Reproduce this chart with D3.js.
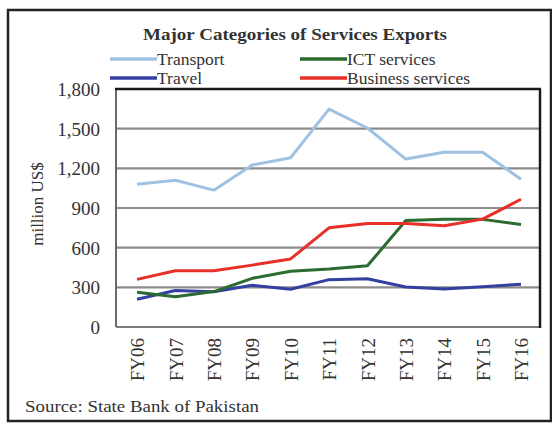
<!DOCTYPE html>
<html>
<head>
<meta charset="utf-8">
<script src="https://cdn.jsdelivr.net/npm/d3@7"></script>
<style>
  html, body { margin: 0; padding: 0; background: #fff; }
  svg { display: block; }
  text { font-family: "Liberation Serif", "Times New Roman", serif; fill: #333; }
</style>
</head>
<body>
<svg id="chart" width="552" height="424"></svg>
<script>
// Fiscal years on the x axis
const years = ["FY06", "FY07", "FY08", "FY09", "FY10", "FY11", "FY12", "FY13", "FY14", "FY15", "FY16"];

// Exports by category, million US$
const transport = [1080, 1110, 1035, 1225, 1280, 1648, 1505, 1270, 1322, 1322, 1118];
const ict       = [262, 228, 268, 368, 422, 438, 463, 805, 814, 814, 775];
const travel    = [210, 276, 267, 315, 286, 358, 365, 302, 288, 304, 324];
const business  = [360, 425, 425, 468, 515, 750, 782, 782, 765, 816, 966];

// Value axis ticks
const yTicks = [0, 300, 600, 900, 1200, 1500, 1800];

const seriesNames  = ["Transport", "ICT services", "Travel", "Business services"];
const seriesColors = ["#9fc2e3", "#2b6a30", "#3440a0", "#e8302a"];
const seriesValues = [transport, ict, travel, business];

const svg = d3.select("#chart");

// Outer frame
svg.append("rect")
  .attr("x", 8).attr("y", 10).attr("width", 543).attr("height", 411)
  .attr("fill", "#fff").attr("stroke", "#222").attr("stroke-width", 2.5);

const plot = { left: 116, top: 89, right: 540, bottom: 327 };

const x = d3.scalePoint().domain(years).range([plot.left + 21, plot.right - 19]);
const y = d3.scaleLinear().domain([0, 1800]).range([plot.bottom, plot.top]);

// Horizontal grid lines
svg.append("g")
  .selectAll("line")
  .data(yTicks.filter(d => d > 0 && d < 1800))
  .join("line")
  .attr("x1", plot.left).attr("x2", plot.right)
  .attr("y1", d => y(d)).attr("y2", d => y(d))
  .attr("stroke", "#8c8c8c").attr("stroke-width", 2.2);

// Plot area border: darker top/right, grey left/bottom
svg.append("line").attr("x1", plot.left).attr("x2", plot.left)
  .attr("y1", plot.top).attr("y2", plot.bottom)
  .attr("stroke", "#6a6a6a").attr("stroke-width", 2);
svg.append("line").attr("x1", plot.left).attr("x2", plot.right)
  .attr("y1", plot.bottom).attr("y2", plot.bottom)
  .attr("stroke", "#7a7a7a").attr("stroke-width", 2);
svg.append("line").attr("x1", plot.left - 1).attr("x2", plot.right + 1)
  .attr("y1", plot.top).attr("y2", plot.top)
  .attr("stroke", "#1a1a1a").attr("stroke-width", 2.5);
svg.append("line").attr("x1", plot.right).attr("x2", plot.right)
  .attr("y1", plot.top).attr("y2", plot.bottom + 1)
  .attr("stroke", "#1a1a1a").attr("stroke-width", 2.5);

// Y axis labels
const yAxis = d3.axisLeft(y).tickValues(yTicks).tickSize(0).tickPadding(0)
  .tickFormat(d3.format(","));
const gy = svg.append("g").attr("transform", `translate(${plot.left - 16},0)`).call(yAxis);
gy.select(".domain").remove();
gy.selectAll("text")
  .attr("font-family", "Liberation Serif, serif")
  .attr("font-size", 19).attr("fill", "#333").attr("dy", "0.35em");

// X axis labels, rotated
const xAxis = d3.axisBottom(x).tickSize(0).tickPadding(0);
const gx = svg.append("g").attr("transform", `translate(0,${plot.bottom})`).call(xAxis);
gx.select(".domain").remove();
gx.selectAll("text")
  .attr("font-family", "Liberation Serif, serif")
  .attr("font-size", 19).attr("fill", "#333")
  .attr("transform", "rotate(-90)")
  .attr("text-anchor", "end")
  .attr("x", -11).attr("y", 0).attr("dy", "0.35em");

// Y axis title
svg.append("text")
  .attr("transform", "translate(43,204) rotate(-90)")
  .attr("text-anchor", "middle")
  .attr("font-size", 17).attr("fill", "#333")
  .text("million US$");

// Series lines
const line = d3.line().x((d, i) => x(years[i])).y(d => y(d));
const drawOrder = [0, 2, 1, 3];
svg.append("g")
  .selectAll("path")
  .data(drawOrder)
  .join("path")
  .attr("d", k => line(seriesValues[k]))
  .attr("fill", "none")
  .attr("stroke", k => seriesColors[k])
  .attr("stroke-width", 3)
  .attr("stroke-linejoin", "round");

// Chart title
svg.append("text")
  .attr("x", 143).attr("y", 40)
  .attr("font-size", 17).attr("font-weight", "bold").attr("fill", "#2a2a2a")
  .attr("textLength", 304).attr("lengthAdjust", "spacingAndGlyphs")
  .text("Major Categories of Services Exports");

// Legend in two columns
const legendPos = [
  { lx: 110, ly: 59 }, { lx: 300, ly: 59 },
  { lx: 110, ly: 78 }, { lx: 300, ly: 78 }
];
const legend = svg.append("g")
  .selectAll("g")
  .data(seriesNames.map((n, i) => ({ name: n, color: seriesColors[i], ...legendPos[i] })))
  .join("g");
legend.append("line")
  .attr("x1", d => d.lx).attr("x2", d => d.lx + 47)
  .attr("y1", d => d.ly).attr("y2", d => d.ly)
  .attr("stroke", d => d.color).attr("stroke-width", 3.5);
legend.append("text")
  .attr("x", d => d.lx + 47).attr("y", d => d.ly + 5.5)
  .attr("font-size", 17.5).attr("fill", "#333")
  .text(d => d.name);

// Source note
svg.append("text")
  .attr("x", 25).attr("y", 412)
  .attr("font-size", 17).attr("fill", "#333")
  .attr("textLength", 234).attr("lengthAdjust", "spacingAndGlyphs")
  .text("Source: State Bank of Pakistan");
</script>
</body>
</html>
